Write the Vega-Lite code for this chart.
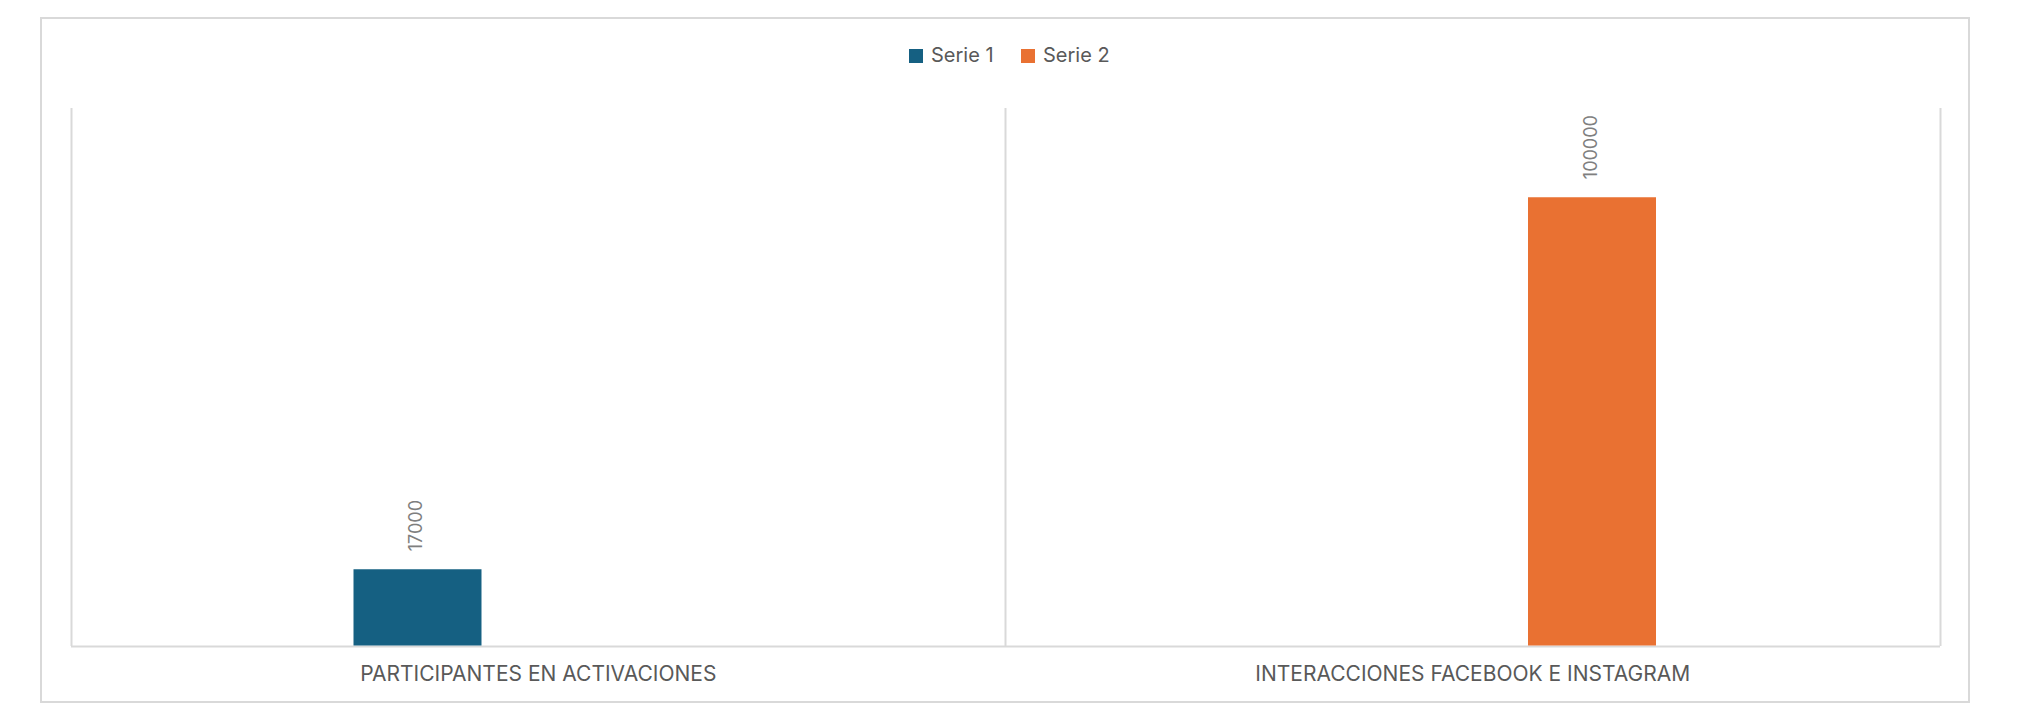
{
  "$schema": "https://vega.github.io/schema/vega-lite/v6.json",
  "width": 1928,
  "height": 684,
  "autosize": "none",
  "padding": {"left": 41, "top": 18, "right": 62, "bottom": 11},
  "background": "white",
  "config": {
    "view": {"stroke": "#d9d9d9", "strokeWidth": 2},
    "font": "Inter"
  },
  "data": {
    "values": [
      {"cat": "PARTICIPANTES EN ACTIVACIONES", "serie": "Serie 1", "value": 17000},
      {"cat": "INTERACCIONES FACEBOOK E INSTAGRAM", "serie": "Serie 2", "value": 100000}
    ]
  },
  "layer": [
    {
      "mark": {"type": "bar"},
      "encoding": {
        "x": {
          "field": "cat", "type": "nominal",
          "scale": {"domain": ["PARTICIPANTES EN ACTIVACIONES", "INTERACCIONES FACEBOOK E INSTAGRAM"], "range": [29.5, 1898.5], "paddingInner": 0, "paddingOuter": 0},
          "axis": {
            "orient": "top", "title": null, "domain": false,
            "grid": true, "gridColor": "#d9d9d9", "gridWidth": 2, "tickBand": "extent",
            "ticks": false, "tickSize": 0,
            "labelPadding": -662, "labelBaseline": "alphabetic", "labelFontSize": 21, "labelColor": "#595959",
            "labelFont": "Inter", "labelAngle": 0, "labelLimit": 0
          }
        },
        "xOffset": {"field": "serie", "type": "nominal", "scale": {"domain": ["Serie 1", "Serie 2"], "range": [283, 651], "paddingInner": 0.4667, "paddingOuter": 0}},
        "y": {
          "field": "value", "type": "quantitative",
          "scale": {"domain": [0, 120000], "range": [627.5, 89.5], "nice": false},
          "axis": {"values": [0], "title": null, "labels": false, "ticks": false, "domain": false, "grid": true, "gridColor": "#d9d9d9", "gridWidth": 2}
        },
        "color": {
          "field": "serie", "type": "nominal",
          "scale": {"domain": ["Serie 1", "Serie 2"], "range": ["#156082", "#E97132"]},
          "legend": {
            "orient": "none", "legendX": 865, "legendY": 28, "direction": "horizontal",
            "title": null, "symbolType": "square", "symbolSize": 196,
            "labelFontSize": 20, "labelColor": "#595959", "labelFont": "Inter", "labelOffset": 5,
            "columnPadding": 24
          }
        }
      }
    },
    {
      "mark": {"type": "text", "angle": 270, "align": "left", "baseline": "middle", "dx": 18, "fontSize": 18, "color": "#7f7f7f", "font": "Inter"},
      "encoding": {
        "x": {"field": "cat", "type": "nominal"},
        "xOffset": {"field": "serie", "type": "nominal"},
        "y": {"field": "value", "type": "quantitative"},
        "text": {"field": "value", "type": "nominal"}
      }
    }
  ]
}
